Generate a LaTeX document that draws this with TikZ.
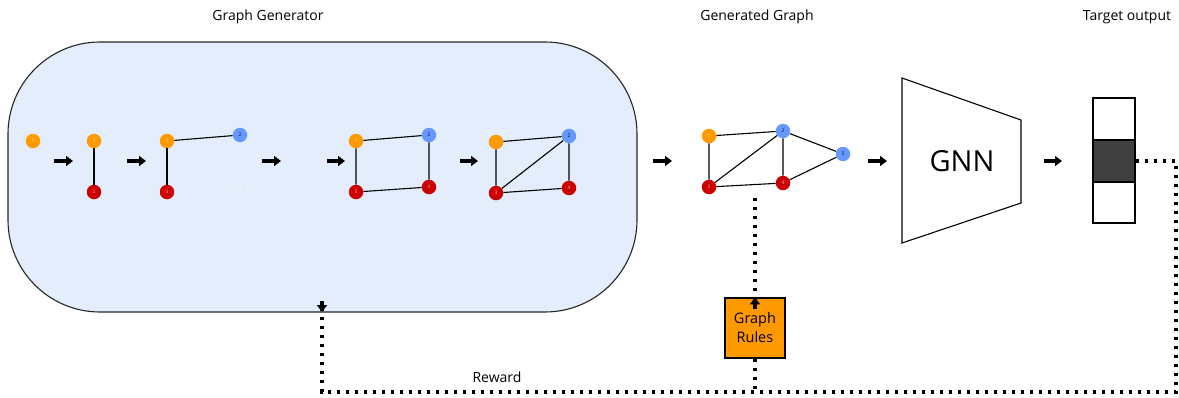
\documentclass[tikz,border=0pt]{standalone}
\usepackage{fontspec}
\setmainfont{Open Sans}
\usetikzlibrary{arrows.meta}
\definecolor{genblue}{HTML}{E3EDFC}
\definecolor{vorange}{HTML}{FF9900}
\definecolor{vred}{HTML}{CC0000}
\definecolor{vblue}{HTML}{6699FF}
\definecolor{tdark}{HTML}{404040}
\tikzset{
  vtx/.style={circle,inner sep=0pt,minimum size=14.5pt,font=\fontsize{5}{5}\selectfont},
  vo/.style={vtx,fill=vorange,text=white!80!vorange},
  vr/.style={vtx,fill=vred,text=white!65!vred},
  vb/.style={vtx,fill=vblue,text=blue!40!black},
  edge/.style={line width=1.1pt,black},
  bigarrow/.style={line width=3.2pt,-{Triangle[length=7pt,width=10pt]}},
  dotline/.style={line width=3.2pt,dash pattern=on 3.2pt off 5.8pt},
  title/.style={font=\fontsize{14}{16}\selectfont}
}
\begin{document}
\begin{tikzpicture}[x=1pt,y=-1pt]
\useasboundingbox (0,0) rectangle (1179,397);
% titles
\node[title] (t1) at (268,17) {Graph Generator};
\node[title] (t2) at (757,17) {Generated Graph};
\node[title] (t3) at (1127,17) {Target output};
% generator box
\node[draw=black!85,line width=1.1pt,fill=genblue,rounded corners=92pt,minimum width=629pt,minimum height=270pt,inner sep=0pt] (gen) at (322.5,177) {};
% step 1
\node[vo] (a1) at (33,141) {1};
% step 2
\node[vo] (b1) at (94,141) {1};
\node[vr] (b2) at (94,192) {2};
\draw[edge] (b1) -- (b2);
% step 3
\node[vo] (c1) at (167,141) {1};
\node[vr] (c3) at (167,192) {3};
\node[vb] (c2) at (240,135) {2};
\node[font=\fontsize{5}{5}\selectfont,text=white] (c4) at (240,187) {4};
\draw[edge] (c1) -- (c3);
\draw[edge] (c1) -- (c2);
% step 4
\node[vo] (d1) at (356,141) {1};
\node[vb] (d2) at (429,135) {2};
\node[vr] (d3) at (356,192) {3};
\node[vr] (d4) at (429,187) {4};
\draw[edge] (d1) -- (d2) -- (d4) -- (d3) -- (d1);
% step 5
\node[vo] (e1) at (496,142) {1};
\node[vb] (e2) at (569,136) {2};
\node[vr] (e3) at (496,193) {3};
\node[vr] (e4) at (569,188) {4};
\draw[edge] (e1) -- (e2) -- (e4) -- (e3) -- (e1);
\draw[edge] (e3) -- (e2);
% generated graph
\node[vo] (f1) at (709,136) {1};
\node[vb] (f2) at (783,131) {2};
\node[vb] (f5) at (843,154) {5};
\node[vr] (f3) at (709,187) {3};
\node[vr] (f4) at (783,183) {4};
\draw[edge] (f1) -- (f2) -- (f4) -- (f3) -- (f1);
\draw[edge] (f3) -- (f2);
\draw[edge] (f2) -- (f5) -- (f4);
% arrows between steps
\coordinate (p1a) at (54,161); \coordinate (p1b) at (73,161);
\coordinate (p2a) at (127,161); \coordinate (p2b) at (146,161);
\coordinate (p3a) at (262,161); \coordinate (p3b) at (281,161);
\coordinate (p4a) at (327,161); \coordinate (p4b) at (345,161);
\coordinate (p5a) at (460,161); \coordinate (p5b) at (478,161);
\coordinate (p6a) at (653,161); \coordinate (p6b) at (672,161);
\coordinate (p7a) at (868,161); \coordinate (p7b) at (887,161);
\coordinate (p8a) at (1044,161); \coordinate (p8b) at (1062,161);
\foreach \i in {1,...,8} {\draw[bigarrow] (p\i a) -- (p\i b);}
% GNN
\draw[line width=1.1pt,fill=white] (902,78) -- (1021,120) -- (1021,203) -- (902,243) -- cycle;
\node[font=\fontsize{29}{32}\selectfont] (gnn) at (962,161) {GNN};
% target output
\node[draw,line width=1.1pt,fill=white,minimum width=42pt,minimum height=42pt,inner sep=0pt] (o1) at (1114,119) {};
\node[draw,line width=1.1pt,fill=tdark,minimum width=42pt,minimum height=42pt,inner sep=0pt] (o2) at (1114,161) {};
\node[draw,line width=1.1pt,fill=white,minimum width=42pt,minimum height=41pt,inner sep=0pt] (o3) at (1114,202.5) {};
% graph rules
\node[draw,line width=1.1pt,fill=vorange,minimum width=60pt,minimum height=60pt,inner sep=0pt,align=center,font=\fontsize{14.5}{19}\selectfont] (rules) at (755,328) {Graph\\Rules};
% feedback loop
\coordinate (r1) at (1176,161);
\coordinate (r2) at (1176,392);
\coordinate (r3) at (322,392);
\coordinate (rtop) at (322,312);
\coordinate (gsrc) at (755,198);
\coordinate (rjoin) at (755,392);
\draw[dotline] (o2.east) -- (r1) -- (r2) -- (r3) -- ([yshift=10pt]rtop);
\draw[bigarrow] ([yshift=11pt]rtop) -- (rtop);
\draw[dotline] (gsrc) -- ([yshift=-11pt]rules.north);
\draw[bigarrow] ([yshift=-12pt]rules.north) -- (rules.north);
\draw[dotline] (rules.south) -- (rjoin);
\node[title] (rew) at (497,377) {Reward};
\end{tikzpicture}
\end{document}
